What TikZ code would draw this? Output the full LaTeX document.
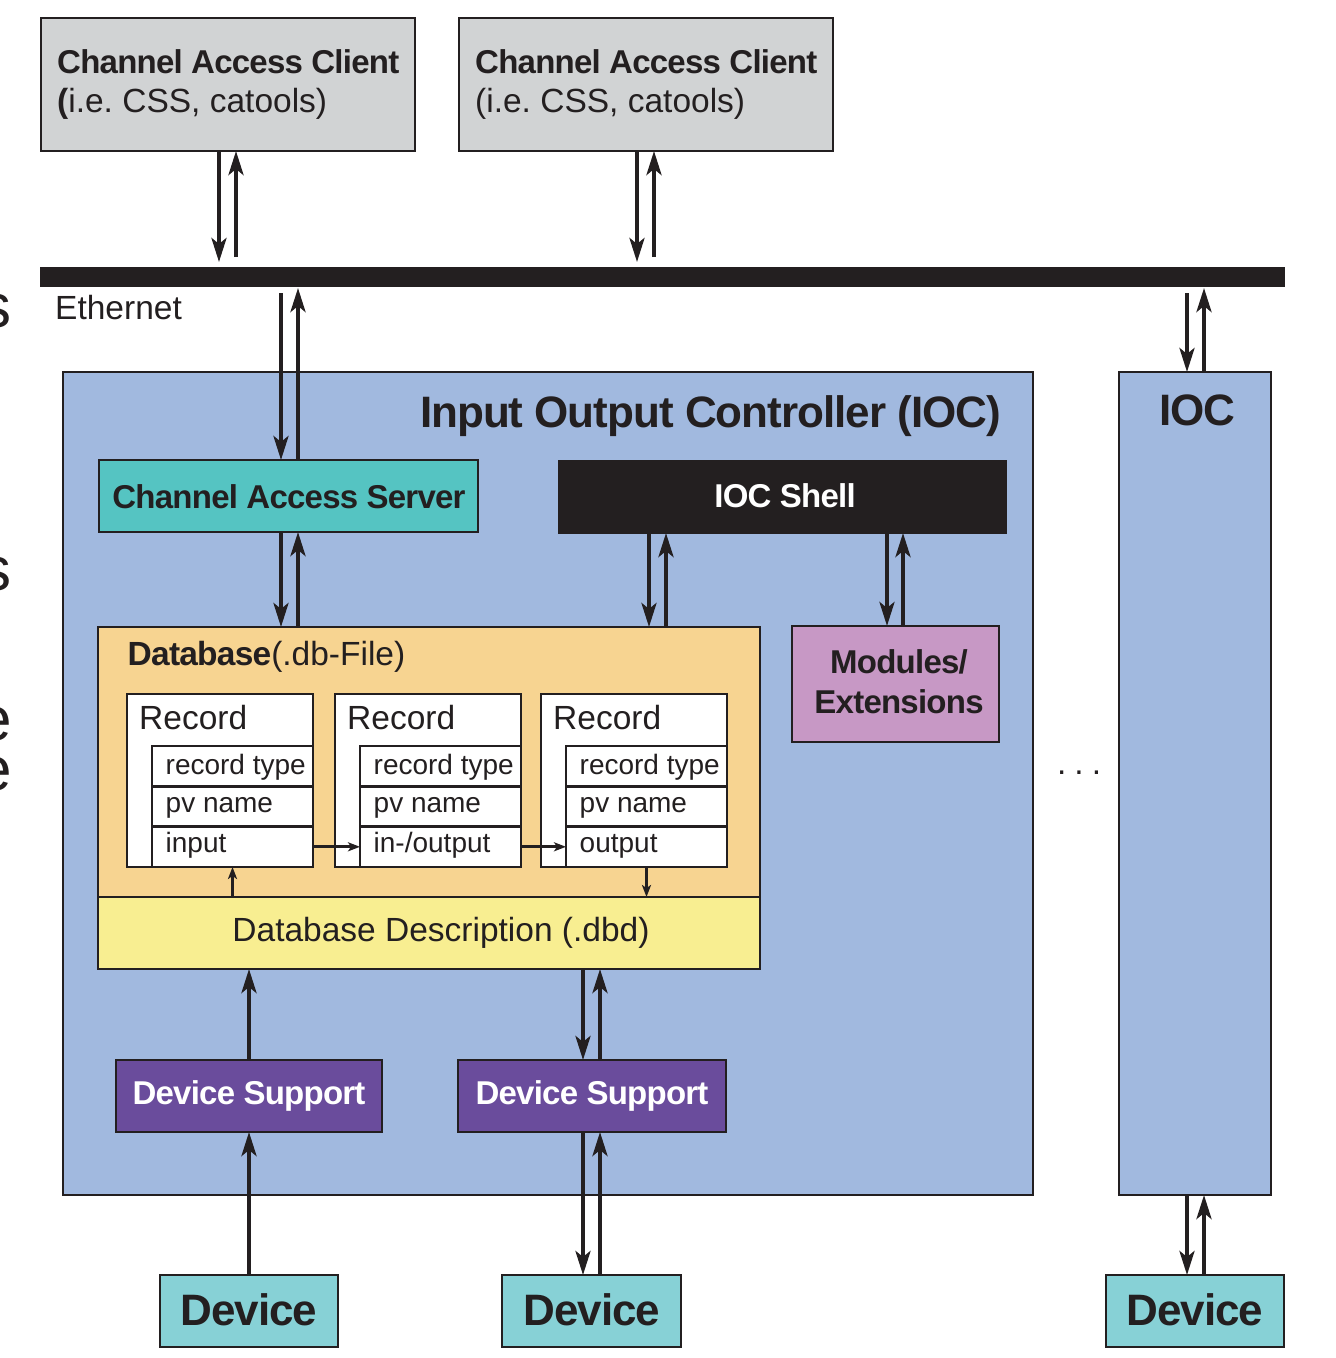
\documentclass[tikz,border=0pt]{standalone}
\usepackage{fontspec}
\setmainfont{Liberation Sans}
\newfontfamily\hb{Liberation Sans}[LetterSpace=-2.3]
\usetikzlibrary{arrows.meta}
\frenchspacing

\definecolor{ink}{HTML}{231F20}
\definecolor{clientgray}{HTML}{D1D3D4}
\definecolor{iocblue}{HTML}{A1B9DF}
\definecolor{castea}{HTML}{55C4C2}
\definecolor{devteal}{HTML}{87D1D6}
\definecolor{dborange}{HTML}{F7D491}
\definecolor{dbdyellow}{HTML}{F8EE91}
\definecolor{modpink}{HTML}{C798C5}
\definecolor{dspurple}{HTML}{6A4C9C}

\begin{document}
\begin{tikzpicture}[x=1pt,y=-1pt,
  box/.style={draw=ink,line width=2.5pt,inner sep=0pt,outer sep=0pt},
  arr/.style={draw=ink,line width=4pt,-{Stealth[length=24pt,width=15pt,inset=6pt]}},
  sarr/.style={draw=ink,line width=3pt,-{Stealth[length=12pt,width=9pt,inset=3pt]}},
  reg/.style={font=\fontsize{33.5}{40}\selectfont,inner sep=0pt,text=ink},
  small/.style={font=\fontsize{28}{32}\selectfont,inner sep=0pt,text=ink},
  bld/.style={font=\hb\bfseries\fontsize{33}{40}\selectfont,inner sep=0pt,text=ink},
  big/.style={font=\hb\bfseries\fontsize{44}{50}\selectfont,inner sep=0pt,text=ink},
  frag/.style={font=\fontsize{62}{70}\selectfont,inner sep=0pt,text=ink,anchor=base east}
]
\useasboundingbox (0,0) rectangle (1336,1358);
\clip (0,0) rectangle (1336,1358);

% text running in from the left margin
\node[frag] (fs1) at (12,327) {s};
\node[frag] (fs2) at (12,590) {s};
\node[frag] (fe1) at (12,740) {e};
\node[frag] (fe2) at (12,790) {e};

% clients and network
\node[box,fill=clientgray,minimum width=374pt,minimum height=133pt] (c1) at (228,84.5) {};
\node[box,fill=clientgray,minimum width=374pt,minimum height=133pt] (c2) at (646,84.5) {};
\node[fill=ink,inner sep=0pt,outer sep=0pt,minimum width=1245pt,minimum height=20pt] (bar) at (662.5,277) {};

% IOC frames
\node[box,fill=iocblue,minimum width=970pt,minimum height=823pt] (ioc) at (548,783.5) {};
\node[box,fill=iocblue,minimum width=152pt,minimum height=823pt] (ioc2) at (1195,783.5) {};

% IOC internals
\node[box,fill=castea,minimum width=379pt,minimum height=72pt] (cas) at (288.5,496) {};
\node[box,fill=ink,minimum width=447pt,minimum height=72pt] (shell) at (782.5,497) {};
\node[box,fill=modpink,minimum width=207pt,minimum height=116pt] (mods) at (895.5,684) {};
\node[box,fill=dborange,minimum width=662pt,minimum height=270pt] (db) at (429,762) {};
\node[box,fill=dbdyellow,minimum width=662pt,minimum height=72pt] (dbd) at (429,933) {};

% records with their fields
\foreach \i/\cx/\lbl in {1/220/{input},2/428/{in-/output},3/634/{output}}{
  \node[box,fill=white,minimum width=186pt,minimum height=173pt] (rec\i) at (\cx,780.5) {};
  \node[box,fill=white,minimum width=161pt,minimum height=40.33pt] (fa\i) at (\cx+12.5,766.2) {};
  \node[box,fill=white,minimum width=161pt,minimum height=40.33pt] (fb\i) at (\cx+12.5,806.5) {};
  \node[box,fill=white,minimum width=161pt,minimum height=40.33pt] (fc\i) at (\cx+12.5,846.8) {};
  \node[reg,anchor=base west] (rt\i) at (\cx-81,729) {Record};
  \node[small,anchor=base west] (ta\i) at (\cx-54.5,774) {record type};
  \node[small,anchor=base west] (tb\i) at (\cx-54.5,812) {pv name};
  \node[small,anchor=base west] (tc\i) at (\cx-54.5,852) {\lbl};
}

% device layer
\node[box,fill=dspurple,minimum width=266pt,minimum height=72pt] (ds1) at (249,1096) {};
\node[box,fill=dspurple,minimum width=268pt,minimum height=72pt] (ds2) at (592,1096) {};
\node[box,fill=devteal,minimum width=178pt,minimum height=72pt] (dev1) at (249,1311) {};
\node[box,fill=devteal,minimum width=179pt,minimum height=72pt] (dev2) at (591.5,1311) {};
\node[box,fill=devteal,minimum width=178pt,minimum height=72pt] (dev3) at (1195,1311) {};

% connectors: clients <-> ethernet
\draw[arr,shorten >=5pt] ([xshift=-9pt]c1.south) -- ([xshift=-9pt]c1.south |- bar.north);
\draw[arr,shorten <=10pt] ([xshift=8pt]c1.south |- bar.north) -- ([xshift=8pt]c1.south);
\draw[arr,shorten >=5pt] ([xshift=-9pt]c2.south) -- ([xshift=-9pt]c2.south |- bar.north);
\draw[arr,shorten <=10pt] ([xshift=8pt]c2.south |- bar.north) -- ([xshift=8pt]c2.south);

% ethernet <-> IOCs
\draw[arr,shorten <=6pt] ([xshift=-7.5pt]cas.north |- bar.south) -- ([xshift=-7.5pt]cas.north);
\draw[arr,shorten >=1pt] ([xshift=9.5pt]cas.north) -- ([xshift=9.5pt]cas.north |- bar.south);
\draw[arr,shorten <=6pt] ([xshift=-8pt]ioc2.north |- bar.south) -- ([xshift=-8pt]ioc2.north);
\draw[arr,shorten >=1pt] ([xshift=9pt]ioc2.north) -- ([xshift=9pt]ioc2.north |- bar.south);

% channel access server, shell, database, modules
\draw[arr] ([xshift=-7.5pt]cas.south) -- ([xshift=-7.5pt]cas.south |- db.north);
\draw[arr] ([xshift=9.5pt]cas.south |- db.north) -- ([xshift=9.5pt]cas.south);
\draw[arr] ([xshift=-133.5pt]shell.south) -- ([xshift=-133.5pt]shell.south |- db.north);
\draw[arr] ([xshift=-116.5pt]shell.south |- db.north) -- ([xshift=-116.5pt]shell.south);
\draw[arr] ([xshift=-8.5pt]mods.north |- shell.south) -- ([xshift=-8.5pt]mods.north);
\draw[arr] ([xshift=7.5pt]mods.north) -- ([xshift=7.5pt]mods.north |- shell.south);

% links inside the database
\draw[sarr] (fc1.east) -- (fc2.west);
\draw[sarr] (fc2.east) -- (fc3.west);
\draw[sarr] (fc1.south |- dbd.north) -- (fc1.south);
\draw[sarr] (fc3.south) -- (fc3.south |- dbd.north);

% device support and devices
\draw[arr] (ds1.north) -- (ds1.north |- dbd.south);
\draw[arr] (dev1.north) -- (ds1.south);
\draw[arr] ([xshift=-9pt]ds2.north |- dbd.south) -- ([xshift=-9pt]ds2.north);
\draw[arr] ([xshift=8pt]ds2.north) -- ([xshift=8pt]ds2.north |- dbd.south);
\draw[arr] ([xshift=-9pt]ds2.south) -- ([xshift=-9pt]ds2.south |- dev2.north);
\draw[arr] ([xshift=8pt]ds2.south |- dev2.north) -- ([xshift=8pt]ds2.south);
\draw[arr] ([xshift=-8pt]ioc2.south) -- ([xshift=-8pt]ioc2.south |- dev3.north);
\draw[arr] ([xshift=9pt]ioc2.south |- dev3.north) -- ([xshift=9pt]ioc2.south);

% labels
\node[bld,anchor=base west] (c1t) at (57,73) {Channel Access Client};
\node[reg,anchor=base west] (c1s) at (57,112) {\textbf{(}i.e. CSS, catools)};
\node[bld,anchor=base west] (c2t) at (475,73) {Channel Access Client};
\node[reg,anchor=base west] (c2s) at (475,112) {(i.e. CSS, catools)};
\node[reg,anchor=base west] (eth) at (55,319) {Ethernet};
\node[big,anchor=base east] (ioct) at (1001,427) {Input Output Controller (IOC)};
\node[big,anchor=base] (ioc2t) at (1197.5,425) {IOC};
\node[bld,anchor=base] (cast) at (289,508) {Channel Access Server};
\node[bld,anchor=base,text=white] (shellt) at (785,507) {IOC Shell};
\node[bld,anchor=base] (modt1) at (899,673) {Modules/};
\node[bld,anchor=base] (modt2) at (899,713) {Extensions};
\node[reg,anchor=base west] (dbt) at (127.5,665) {{\hb\bfseries Database}(.db-File)};
\node[reg,anchor=base] (dbdt) at (441,941) {Database Description (.dbd)};
\node[bld,anchor=base,text=white] (ds1t) at (249,1104) {Device Support};
\node[bld,anchor=base,text=white] (ds2t) at (592,1104) {Device Support};
\node[big,anchor=base] (dev1t) at (249,1325) {Device};
\node[big,anchor=base] (dev2t) at (592,1325) {Device};
\node[big,anchor=base] (dev3t) at (1195,1325) {Device};
\node[reg,anchor=base west] (dots) at (1057,774) {.\hspace{8pt}.\hspace{8pt}.};
\end{tikzpicture}
\end{document}
